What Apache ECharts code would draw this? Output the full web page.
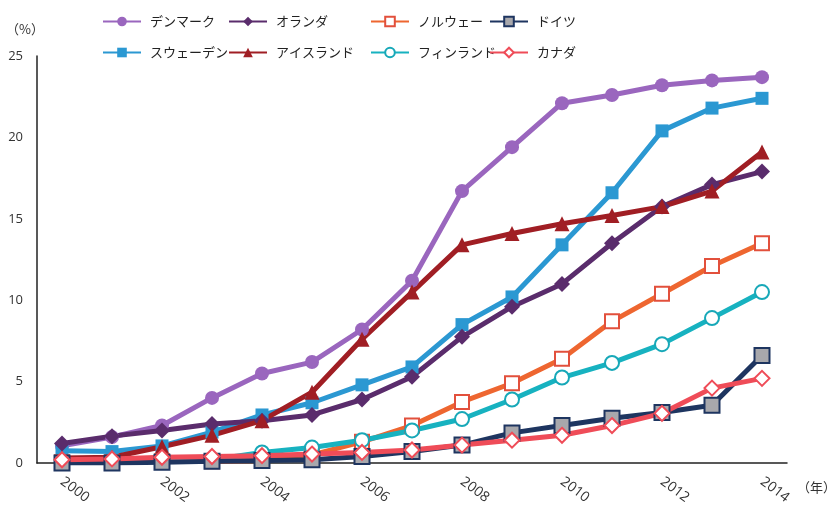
<!DOCTYPE html>
<html><head><meta charset="utf-8">
<script src="https://cdn.jsdelivr.net/npm/echarts@6/dist/echarts.min.js"></script>
<style>html,body{margin:0;padding:0;background:#fff}#c{width:827px;height:505px}</style>
</head><body><div id="c"></div>
<script>
const years = ['2000','2001','2002','2003','2004','2005','2006','2007','2008','2009','2010','2011','2012','2013','2014'];
const yTicks = [0,5,10,15,20,25];
const denmark   = [1.05,1.6,2.3,4.0,5.5,6.2,8.2,11.2,16.7,19.4,22.1,22.6,23.2,23.5,23.7];
const sweden    = [0.75,0.7,1.05,1.9,2.95,3.7,4.8,5.9,8.5,10.2,13.4,16.6,20.4,21.8,22.4];
const netherlands = [1.2,1.65,2.0,2.4,2.6,2.95,3.9,5.3,7.75,9.6,11.0,13.5,15.75,17.1,17.9];
const iceland   = [0.3,0.35,1.0,1.7,2.6,4.35,7.6,10.5,13.4,14.1,14.7,15.2,15.75,16.7,19.1];
const norway    = [0.05,0.05,0.1,0.1,0.15,0.5,1.3,2.3,3.75,4.9,6.4,8.7,10.4,12.1,13.5];
const finland   = [0.05,0.1,0.1,0.2,0.65,0.95,1.4,2.0,2.7,3.9,5.25,6.15,7.3,8.9,10.5];
const germany   = [0.0,0.0,0.05,0.1,0.15,0.2,0.4,0.7,1.1,1.85,2.3,2.75,3.1,3.55,6.6];
const canada    = [0.2,0.25,0.35,0.4,0.45,0.55,0.65,0.8,1.1,1.4,1.7,2.3,3.05,4.6,5.2];

const names = {dk:'デンマーク', se:'スウェーデン', nl:'オランダ', is:'アイスランド', no:'ノルウェー', fi:'フィンランド', de:'ドイツ', ca:'カナダ'};

const chart = echarts.init(document.getElementById('c'));
const jp = '"Noto Sans CJK JP", "Noto Sans", sans-serif';
const num = '"Open Sans", sans-serif';
function s(name, data, color, symbol, size, fill, border){
  return {
    name, type:'line', data, symbol, symbolSize:size,
    lineStyle:{color, width:5},
    itemStyle:{color: fill || color, borderColor: border || color, borderWidth: fill ? 2 : 0},
    emphasis:{disabled:true}
  };
}
const legendBase = {orient:'vertical', top:15, itemWidth:38, itemHeight:12, itemGap:18,
  textStyle:{fontFamily:jp, fontSize:13, color:'#222', padding:[0,0,0,4]}, padding:0};
chart.setOption({
  animation:false,
  textStyle:{fontFamily:jp},
  grid:{left:37, top:56, width:750, height:407, containLabel:false, outerBoundsMode:'none'},
  legend:[
    Object.assign({}, legendBase, {left:102, data:[names.dk, names.se]}),
    Object.assign({}, legendBase, {left:228, data:[names.nl, names.is]}),
    Object.assign({}, legendBase, {left:370, data:[names.no, names.fi]}),
    Object.assign({}, legendBase, {left:489, data:[names.de, names.ca]})
  ],
  xAxis:{type:'category', data:years, boundaryGap:true,
    axisLine:{lineStyle:{color:'#222', width:1.5}}, axisTick:{show:false},
    axisLabel:{interval:1, rotate:-37, align:'left', verticalAlign:'middle', margin:17,
      fontFamily:num, fontSize:14, color:'#333'},
    name:'（年）', nameLocation:'end', nameGap:10,
    nameTextStyle:{fontFamily:jp, fontSize:13, color:'#333', verticalAlign:'top', padding:[18,0,0,0]}
  },
  yAxis:{type:'value', min:0, max:25, interval:5,
    axisLine:{show:true, lineStyle:{color:'#222', width:1.5}}, axisTick:{show:false},
    splitLine:{show:false},
    axisLabel:{fontFamily:num, fontSize:13, color:'#333', margin:14,
      formatter:v => yTicks.includes(v) ? String(v) : ''},
    name:'（%）', nameLocation:'end', nameGap:20,
    nameTextStyle:{fontFamily:jp, fontSize:13, color:'#333', align:'center', padding:[0,0,0,-24]}
  },
  series:[
    s(names.dk, denmark, '#9A66BE', 'circle', 14),
    s(names.se, sweden, '#2B98D2', 'rect', 13),
    s(names.nl, netherlands, '#5A2C6C', 'diamond', 16),
    s(names.is, iceland, '#A01E24', 'triangle', 15),
    s(names.no, norway, '#EE6630', 'rect', 14, '#fff', '#E2503C'),
    s(names.fi, finland, '#17B2C0', 'circle', 14, '#fff', '#17A8B8'),
    s(names.de, germany, '#1E3560', 'rect', 15, '#A8A8AC', '#1E3560'),
    s(names.ca, canada, '#EF4C58', 'diamond', 15, '#fff', '#EF4C58')
  ]
});
</script></body></html>
